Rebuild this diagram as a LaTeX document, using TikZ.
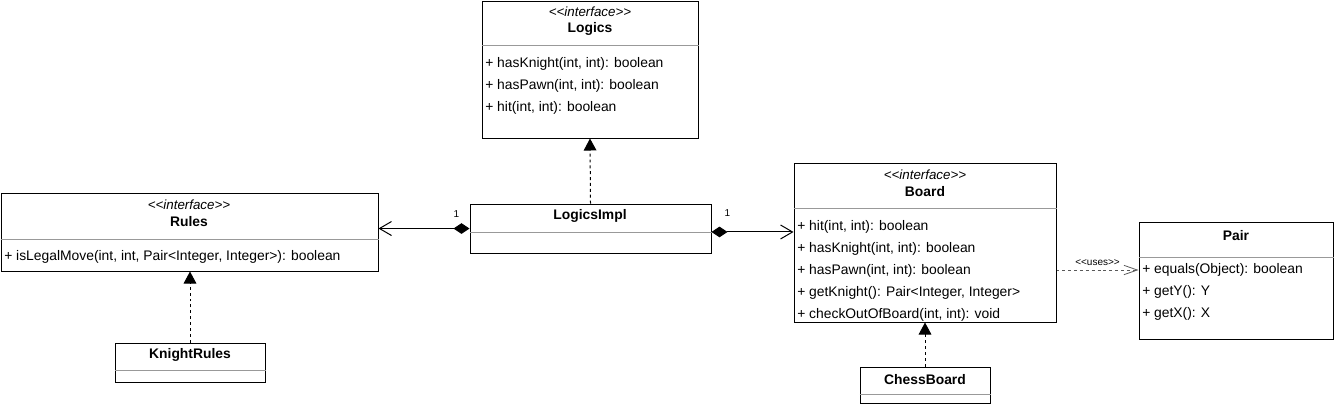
\documentclass[tikz,border=0pt]{standalone}
\usepackage{fontspec}
\setmainfont{Liberation Sans}
\usetikzlibrary{arrows.meta}
\usetikzlibrary{fit}
\newcommand\stopen{\textless\kern0pt\textless}
\newcommand\stclose{\textgreater\kern0pt\textgreater}
\tikzset{
  umlbox/.style={draw, line width=0.75pt, inner sep=0pt},
  sepline/.style={draw=gray!80, line width=0.65pt},
  stereo/.style={font=\fontsize{10}{12}\selectfont\itshape},
  cname/.style={font=\fontsize{10.4}{12}\selectfont\bfseries},
  meth/.style={anchor=west, inner sep=0pt, font=\fontsize{10.4}{12}\selectfont},
  mult/.style={inner sep=0pt, font=\fontsize{7.5}{9}\selectfont},
  usestext/.style={inner sep=0pt, font=\fontsize{7.5}{9}\selectfont},
  realize/.style={line width=0.75pt, dash pattern=on 2.2pt off 2.2pt, -{Triangle[length=9pt,width=9.5pt]}},
  compose/.style={line width=0.75pt, {Diamond[length=12pt,width=8pt]}-{Straight Barb[length=9pt,width=10.5pt]}},
  uses/.style={line width=0.6pt, gray!70!black, dash pattern=on 2.2pt off 2.2pt, -{Straight Barb[length=10pt,width=7pt]}},
}

\begin{document}
\begin{tikzpicture}[x=0.75pt, y=-0.75pt]
\useasboundingbox (0,0) rectangle (1334,404);

\node[umlbox, fit={(482,1) (698,138)}] (logics) {};
\node[stereo] (logics-st) at (590,12) {\stopen interface\stclose};
\node[cname] (logics-nm) at (590,29) {Logics};
\draw[sepline] (logics.west |- 0,45) -- (logics.east |- 0,45);
\foreach \t [count=\i] in {{+ hasKnight(int, int): boolean}, {+ hasPawn(int, int): boolean}, {+ hit(int, int): boolean}} {
 \node[meth] (logics-m\i) at (485,42+22*\i) {\t};
}

\node[umlbox, fit={(1,193) (378,271)}] (rules) {};
\node[stereo] (rules-st) at (189,205) {\stopen interface\stclose};
\node[cname] (rules-nm) at (189,222) {Rules};
\draw[sepline] (rules.west |- 0,239) -- (rules.east |- 0,239);
\node[meth] (rules-m1) at (4,257) {+ isLegalMove(int, int, Pair\textless Integer, Integer\textgreater): boolean};

\node[umlbox, fit={(470,204) (711,253)}] (limpl) {};
\node[cname] (limpl-nm) at (590,216) {LogicsImpl};
\draw[sepline] (limpl.west |- 0,232) -- (limpl.east |- 0,232);

\node[umlbox, fit={(794,163) (1056,322)}] (board) {};
\node[stereo] (board-st) at (925,175) {\stopen interface\stclose};
\node[cname] (board-nm) at (925,192) {Board};
\draw[sepline] (board.west |- 0,208) -- (board.east |- 0,208);
\foreach \t [count=\i] in {{+ hit(int, int): boolean}, {+ hasKnight(int, int): boolean}, {+ hasPawn(int, int): boolean}, {+ getKnight(): Pair\textless Integer, Integer\textgreater}, {+ checkOutOfBoard(int, int): void}} {
 \node[meth] (board-m\i) at (797,205+22*\i) {\t};
}

\node[umlbox, fit={(1139,222) (1333,339)}] (pair) {};
\node[cname] (pair-nm) at (1236,236) {Pair};
\draw[sepline] (pair.west |- 0,257) -- (pair.east |- 0,257);
\foreach \t [count=\i] in {{+ equals(Object): boolean}, {+ getY(): Y}, {+ getX(): X}} {
 \node[meth] (pair-m\i) at (1142,248+22*\i) {\t};
}

\node[umlbox, fit={(115,343) (265,382)}] (krules) {};
\node[cname] (krules-nm) at (190,355) {KnightRules};
\draw[sepline] (krules.west |- 0,370) -- (krules.east |- 0,370);

\node[umlbox, fit={(860,367) (990,403)}] (chess) {};
\node[cname] (chess-nm) at (925,380) {ChessBoard};
\draw[sepline] (chess.west |- 0,394) -- (chess.east |- 0,394);

\draw[realize] (limpl.north) -- (logics.south);
\draw[realize] (krules.north) -- (krules.north |- rules.south);
\draw[realize] (chess.north) -- (chess.north |- board.south);

\draw[compose] (limpl.west) -- (limpl.west -| rules.east);
\node[mult] (one-l) at ([shift={(-13,-14.5)}]limpl.west) {1};
\coordinate (cr) at ([yshift=-2.6pt]limpl.east);
\draw[compose] (cr) -- (cr -| board.west);
\node[mult] (one-r) at ([shift={(16,-15.5)}]limpl.east) {1};

\draw[uses] (board.east |- pair-m1) -- (pair.west |- pair-m1)
 node[usestext, midway, above=3pt, black] (uses-lb) {\stopen uses\stclose};
\end{tikzpicture}
\end{document}
